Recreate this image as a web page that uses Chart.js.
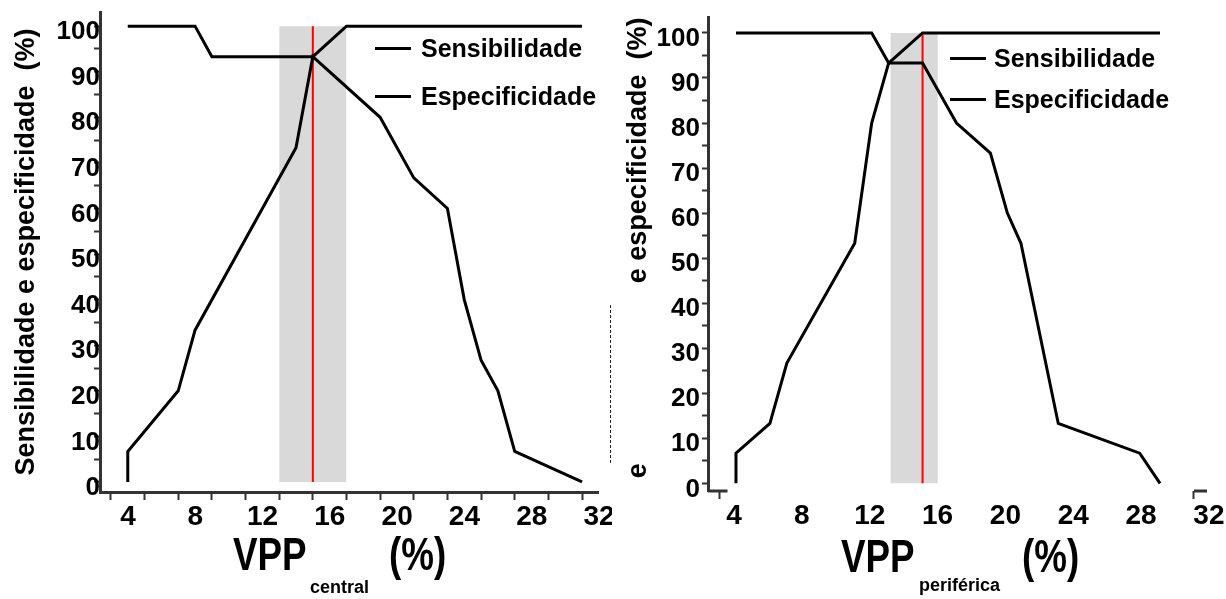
<!DOCTYPE html>
<html>
<head>
<meta charset="utf-8">
<script src="https://cdn.jsdelivr.net/npm/chart.js@4.4.1/dist/chart.umd.min.js"></script>
<style>
  body { margin: 0; background: #fff; width: 1226px; height: 599px; overflow: hidden; position: relative;
         font-family: "Liberation Sans", Arial, sans-serif; }
  .panel { position: absolute; top: 0; height: 599px; }
  #leftPanel { left: 0; width: 612px; }
  #rightPanel { left: 612px; width: 614px; }
  .legend { position: absolute; font-weight: bold; font-size: 25px; color: #000; }
  .legend .row { display: flex; align-items: center; height: 30px; }
  .legend .line { display: inline-block; width: 36px; height: 3px; background: #000; }
  #leftLegend { left: 375px; top: 33px; }
  #leftLegend .row + .row { margin-top: 18px; }
  #leftLegend .line { margin-right: 10px; }
  #rightLegend { left: 950px; top: 43px; }
  #rightLegend .row + .row { margin-top: 11px; }
  #rightLegend .line { margin-right: 8px; }
  .scanMark { position: absolute; left: 610px; top: 305px; height: 158px; border-left: 1px dashed #222; }
</style>
</head>
<body>
<div class="panel" id="leftPanel"><canvas id="centralChart"></canvas></div>
<div class="panel" id="rightPanel"><canvas id="perifChart"></canvas></div>
<div class="legend" id="leftLegend"></div>
<div class="legend" id="rightLegend"></div>
<div class="scanMark"></div>
<script>
// tick values
const xTicks = [4, 6, 8, 10, 12, 14, 16, 18, 20, 22, 24, 26, 28, 30, 32];
const yTicks = [0, 5, 10, 15, 20, 25, 30, 35, 40, 45, 50, 55, 60, 65, 70, 75, 80, 85, 90, 95, 100];

// VPP central
const centralSensX = [5, 9, 10, 16, 18, 32];
const centralSensY = [100, 100, 93.3, 93.3, 100, 100];
const centralEspX = [5, 5, 8, 9, 15, 16, 20, 22, 24, 25, 26, 27, 28, 32];
const centralEspY = [0, 6.7, 20, 33.3, 73.3, 93.3, 80, 66.7, 60, 40, 26.7, 20, 6.7, 0];
const centralCut = 16;
const centralBand = [14, 18];

// VPP periferica
const perifSensX = [5, 13, 14, 16, 18, 20, 21, 21.8, 24, 28.8, 30];
const perifSensY = [100, 100, 93.3, 93.3, 80, 73.3, 60, 53.3, 13.3, 6.7, 0];
const perifEspX = [5, 5, 7, 8, 12, 13, 14, 16, 30];
const perifEspY = [0, 6.7, 13.3, 26.7, 53.3, 80, 93.3, 100, 100];
const perifCut = 16;
const perifBand = [14.1, 16.9];

const seriesNames = ['Sensibilidade', 'Especificidade'];

const toPoints = (xs, ys) => xs.map((x, i) => ({ x: x, y: ys[i] }));

function makeDatasets(sx, sy, ex, ey, cut, band) {
    return [
        { label: seriesNames[0], data: toPoints(sx, sy), borderColor: '#000', borderWidth: 3, order: 0 },
        { label: seriesNames[1], data: toPoints(ex, ey), borderColor: '#000', borderWidth: 3, order: 1 },
        { data: [{ x: cut, y: 0 }, { x: cut, y: 100 }], borderColor: '#ff0000', borderWidth: 2, order: 2 },
        { data: [{ x: band[0], y: 100 }, { x: band[1], y: 100 }], borderWidth: 0, borderColor: 'rgba(0,0,0,0)',
          backgroundColor: '#d9d9d9', fill: 'origin', order: 3 }
    ];
}

// "VPP  (%)" with small subscript, drawn under the x axis
const vppTitle = {
    id: 'vppTitle',
    afterDraw(chart, args, o) {
        const { ctx, chartArea } = chart;
        ctx.save();
        ctx.fillStyle = '#000';
        ctx.textBaseline = 'alphabetic';
        ctx.font = 'bold 46px "Liberation Sans", Arial, sans-serif';
        [[o.main, o.mainX], [o.unit, o.unitX]].forEach(([txt, dx]) => {
            ctx.save();
            ctx.translate(chartArea.left + dx, o.baseline);
            ctx.scale(0.8, 1);
            ctx.fillText(txt, 0, 0);
            ctx.restore();
        });
        ctx.font = 'bold 18px "Liberation Sans", Arial, sans-serif';
        ctx.fillText(o.sub, chartArea.left + o.subX, o.subBaseline);
        ctx.restore();
    }
};

// pieces of the x axis line that survive in the second panel
const axisStubs = {
    id: 'axisStubs',
    afterDraw(chart, args, o) {
        if (!o.ranges) return;
        const { ctx, chartArea, scales } = chart;
        ctx.save();
        ctx.strokeStyle = '#333';
        ctx.lineWidth = 3;
        o.ranges.forEach(([a, b]) => {
            ctx.beginPath();
            ctx.moveTo(scales.x.getPixelForValue(a), chartArea.bottom);
            ctx.lineTo(scales.x.getPixelForValue(b), chartArea.bottom);
            ctx.stroke();
        });
        ctx.restore();
    }
};

function makeChart(id, datasets, cfg) {
    return new Chart(document.getElementById(id), {
        type: 'line',
        data: { datasets: datasets },
        options: {
            responsive: true,
            maintainAspectRatio: false,
            animation: false,
            events: [],
            elements: { point: { radius: 0 }, line: { tension: 0 } },
            layout: { padding: { top: cfg.padTop, right: cfg.padRight, left: 0, bottom: 0 } },
            plugins: {
                legend: { display: false },
                tooltip: { enabled: false },
                vppTitle: cfg.title,
                axisStubs: { ranges: cfg.stubs }
            },
            scales: {
                x: {
                    type: 'linear',
                    min: cfg.xMin,
                    max: cfg.xMax,
                    afterBuildTicks: s => { s.ticks = xTicks.map(v => ({ value: v })); },
                    afterFit: s => { s.height = cfg.xHeight; },
                    border: { display: cfg.xBorder, color: '#333', width: 3 },
                    grid: {
                        drawOnChartArea: false,
                        tickLength: 8,
                        tickWidth: 2,
                        tickColor: cfg.xTickColor
                    },
                    ticks: {
                        autoSkip: false,
                        maxRotation: 0,
                        padding: 0,
                        labelOffset: cfg.labelOffset,
                        color: '#000',
                        font: { family: '"Liberation Sans", Arial, sans-serif', size: 28, weight: 'bold' },
                        callback: v => (v % 4 === 0 ? String(v) : '')
                    }
                },
                y: {
                    min: cfg.yMin,
                    max: cfg.yMax,
                    afterBuildTicks: s => { s.ticks = yTicks.map(v => ({ value: v })); },
                    afterFit: s => { s.width = cfg.yWidth; },
                    border: { color: '#333', width: 3 },
                    grid: { drawOnChartArea: false, tickLength: 6, tickWidth: 2, tickColor: '#333' },
                    ticks: {
                        autoSkip: false,
                        padding: cfg.yPad,
                        labelOffset: 6,
                        color: '#000',
                        font: { family: '"Liberation Sans", Arial, sans-serif', size: 26, weight: 'bold' },
                        callback: v => (v % 10 === 0 ? String(v) : '')
                    },
                    title: {
                        display: true,
                        text: cfg.yTitle,
                        align: cfg.yTitleAlign,
                        color: '#000',
                        padding: { top: 10, bottom: 0 },
                        font: { family: '"Liberation Sans", Arial, sans-serif', size: 27, weight: 'bold' }
                    }
                }
            }
        },
        plugins: [vppTitle, axisStubs]
    });
}

const centralChart = makeChart('centralChart',
    makeDatasets(centralSensX, centralSensY, centralEspX, centralEspY, centralCut, centralBand), {
        padTop: 12, padRight: 14, xHeight: 107, yWidth: 100,
        xMin: 3.35, xMax: 32.95, yMin: -2.2, yMax: 103.1,
        xBorder: true, xTickColor: '#333', labelOffset: 17, yPad: -6,
        yTitle: 'Sensibilidade e especificidade  (%)', yTitleAlign: 'center',
        title: { main: 'VPP', unit: '(%)', sub: 'central', mainX: 133, unitX: 289, subX: 210, baseline: 570, subBaseline: 593 },
        stubs: null
    });

const perifChart = makeChart('perifChart',
    makeDatasets(perifSensX, perifSensY, perifEspX, perifEspY, perifCut, perifBand), {
        padTop: 13, padRight: 19, xHeight: 108, yWidth: 96,
        xMin: 3.35, xMax: 32.77, yMin: -1.7, yMax: 103.4,
        xBorder: false,
        xTickColor: c => (c.tick && (c.tick.value === 4 || c.tick.value === 32) ? '#333' : 'rgba(0,0,0,0)'),
        labelOffset: 15, yPad: 2,
        yTitle: 'e' + ' '.repeat(24) + 'e especificidade  (%)', yTitleAlign: 'end',
        title: { main: 'VPP', unit: '(%)', sub: 'periférica', mainX: 133, unitX: 314, subX: 211, baseline: 572, subBaseline: 591 },
        stubs: [[3.35, 4.5], [32, 32.77]]
    });

// html legend built from the chart's own datasets
function buildLegend(chart, elId) {
    const el = document.getElementById(elId);
    chart.data.datasets.filter(d => d.label).forEach(d => {
        const row = document.createElement('div');
        row.className = 'row';
        const line = document.createElement('span');
        line.className = 'line';
        line.style.background = d.borderColor;
        const txt = document.createElement('span');
        txt.textContent = d.label;
        row.appendChild(line);
        row.appendChild(txt);
        el.appendChild(row);
    });
}
buildLegend(centralChart, 'leftLegend');
buildLegend(perifChart, 'rightLegend');
</script>
</body>
</html>
